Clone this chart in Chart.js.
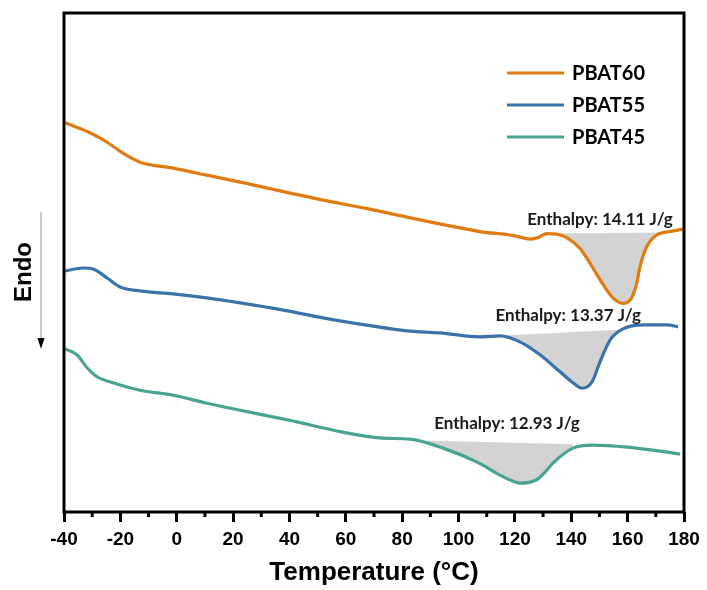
<!DOCTYPE html>
<html>
<head>
<meta charset="utf-8">
<script src="https://cdn.jsdelivr.net/npm/chart.js@4"></script>
<style>
  html, body { margin: 0; padding: 0; background: #fff; }
  #wrap { width: 707px; height: 590px; }
  canvas { display: block; }
</style>
</head>
<body>
<div id="wrap"><canvas id="dsc" width="707" height="590"></canvas></div>
<script>
// DSC heating curves (heat flow, arbitrary offset units) vs temperature
const seriesNames = ['PBAT60', 'PBAT55', 'PBAT45'];

const tempPBAT60 = [-39.6, -30.8, -24.7, -19.1, -13.0, -1.3, 10.7, 22.5, 51.9, 66.8, 81.7, 96.3, 107.6, 119.4, 125.4, 128.3, 131.3, 134.8, 138.4, 143.1, 146.7, 151.4, 155.0, 158.3, 161.5, 163.2, 164.4, 166.8, 170.3, 175.0, 179.8];
const heatPBAT60 = [78.0, 76.0, 74.1, 71.9, 70.1, 68.9, 67.5, 66.1, 62.5, 60.9, 59.1, 57.4, 56.2, 55.4, 54.7, 55.0, 55.8, 55.7, 55.0, 52.8, 49.8, 45.5, 42.8, 41.8, 43.0, 45.8, 49.2, 53.2, 55.5, 56.2, 56.7];

const tempPBAT55 = [-39.6, -33.3, -29.7, -24.7, -20.1, -13.0, -1.3, 10.7, 22.5, 37.4, 51.9, 66.8, 81.7, 93.4, 107.6, 114.7, 121.8, 128.9, 136.0, 140.6, 143.8, 147.4, 150.2, 153.8, 158.4, 165.5, 174.0, 177.9];
const heatPBAT55 = [48.3, 48.9, 48.7, 46.9, 45.1, 44.3, 43.7, 42.9, 41.9, 40.5, 38.9, 37.5, 36.3, 35.9, 35.1, 35.3, 34.1, 31.5, 28.1, 25.9, 24.8, 26.1, 30.1, 34.5, 36.7, 37.5, 37.5, 37.1];

const tempPBAT45 = [-39.6, -35.4, -31.8, -28.3, -22.6, -13.0, -1.3, 10.7, 22.5, 39.8, 59.0, 73.2, 82.8, 94.5, 106.6, 114.7, 118.3, 121.8, 124.7, 127.8, 130.7, 133.5, 140.6, 147.7, 159.8, 171.5, 178.6];
const heatPBAT45 = [32.7, 31.5, 28.9, 27.1, 25.9, 24.4, 23.4, 21.8, 20.4, 18.4, 16.0, 14.8, 14.6, 12.8, 10.0, 7.4, 6.4, 5.8, 5.9, 6.5, 8.0, 9.8, 12.8, 13.4, 13.0, 12.2, 11.6];

// integration baselines under the melting peaks (start / end)
const baseTempPBAT60 = [131.3, 172.0];
const baseHeatPBAT60 = [55.8, 56.0];
const baseTempPBAT55 = [114.7, 157.0];
const baseHeatPBAT55 = [35.3, 36.5];
const baseTempPBAT45 = [85.0, 140.6];
const baseHeatPBAT45 = [14.4, 13.6];

// melting enthalpies (J/g)
const enthalpies = [14.11, 13.37, 12.93];

const xTicks = [-40, -20, 0, 20, 40, 60, 80, 100, 120, 140, 160, 180];

const colors = ['#E07A12', '#3C72AA', '#4AA391'];
const peakFill = '#D3D3D3';
// anchor (temperature, heat flow) of each enthalpy caption
const labelAnchors = [[150.2, 57.5], [138.9, 38.3], [117.2, 16.6]];

const pts = (xs, ys) => xs.map((x, i) => ({ x, y: ys[i] }));

const curves = [
  pts(tempPBAT60, heatPBAT60),
  pts(tempPBAT55, heatPBAT55),
  pts(tempPBAT45, heatPBAT45)
];
const baselines = [
  pts(baseTempPBAT60, baseHeatPBAT60),
  pts(baseTempPBAT55, baseHeatPBAT55),
  pts(baseTempPBAT45, baseHeatPBAT45)
];

const datasets = [];
curves.forEach((d, i) => {
  datasets.push({
    label: seriesNames[i],
    data: d,
    borderColor: colors[i],
    borderWidth: 3.2,
    pointRadius: 0,
    cubicInterpolationMode: 'monotone',
    backgroundColor: peakFill,
    fill: { target: 3 + i, above: peakFill, below: peakFill },
    order: 1
  });
});
baselines.forEach((d) => {
  datasets.push({
    label: '',
    data: d,
    borderColor: 'rgba(0,0,0,0)',
    borderWidth: 0,
    pointRadius: 0,
    fill: false,
    order: 2
  });
});

const decorations = {
  id: 'decorations',
  afterDraw(chart) {
    const { ctx, chartArea: a, scales } = chart;
    const xs = scales.x, ys = scales.y;
    ctx.save();

    // frame
    ctx.strokeStyle = '#000';
    ctx.lineWidth = 3;
    ctx.strokeRect(a.left, a.top, a.right - a.left, a.bottom - a.top);

    // minor ticks
    ctx.lineWidth = 3;
    for (let v = -30; v < 180; v += 20) {
      const px = xs.getPixelForValue(v);
      ctx.beginPath();
      ctx.moveTo(px, a.bottom);
      ctx.lineTo(px, a.bottom + 5);
      ctx.stroke();
    }

    // enthalpy captions
    ctx.fillStyle = '#1a1a1a';
    ctx.font = 'bold 17px Lato';
    ctx.textAlign = 'center';
    ctx.textBaseline = 'alphabetic';
    enthalpies.forEach((h, i) => {
      const [t, q] = labelAnchors[i];
      ctx.fillText('Enthalpy: ' + h.toFixed(2) + ' J/g', xs.getPixelForValue(t), ys.getPixelForValue(q));
    });

    // legend
    ctx.font = 'bold 20px Lato';
    ctx.textAlign = 'left';
    ctx.textBaseline = 'middle';
    seriesNames.forEach((n, i) => {
      const y = 73 + i * 32;
      ctx.strokeStyle = colors[i];
      ctx.lineWidth = 3;
      ctx.beginPath();
      ctx.moveTo(507, y);
      ctx.lineTo(564, y);
      ctx.stroke();
      ctx.fillStyle = '#000';
      ctx.fillText(n, 572, y + 1);
    });

    // "Endo" direction label with arrow
    ctx.save();
    ctx.translate(24, 272);
    ctx.rotate(-Math.PI / 2);
    ctx.font = 'bold 24px "Liberation Sans"';
    ctx.textAlign = 'center';
    ctx.textBaseline = 'middle';
    ctx.fillStyle = '#000';
    ctx.fillText('Endo', 0, 0);
    ctx.restore();

    ctx.strokeStyle = '#AAAAAA';
    ctx.lineWidth = 1.2;
    ctx.beginPath();
    ctx.moveTo(41, 212);
    ctx.lineTo(41, 340);
    ctx.stroke();
    ctx.fillStyle = '#000';
    ctx.beginPath();
    ctx.moveTo(37.5, 338);
    ctx.lineTo(44.5, 338);
    ctx.lineTo(41, 349);
    ctx.closePath();
    ctx.fill();

    ctx.restore();
  }
};

new Chart(document.getElementById('dsc'), {
  type: 'line',
  data: { datasets },
  options: {
    responsive: false,
    animation: false,
    devicePixelRatio: 1,
    layout: { padding: { left: 64, top: 13, right: 23, bottom: 0 } },
    plugins: { legend: { display: false }, tooltip: { enabled: false } },
    scales: {
      x: {
        type: 'linear',
        min: -40,
        max: 180,
        afterBuildTicks(s) { s.ticks = xTicks.map(v => ({ value: v })); },
        afterFit(s) { s.height = 78; },
        border: { display: false },
        grid: { drawOnChartArea: false, drawTicks: true, tickLength: 10, tickWidth: 3, tickColor: '#000' },
        ticks: {
          color: '#000',
          padding: 6,
          maxRotation: 0,
          autoSkip: false,
          font: { family: 'Liberation Sans', weight: 'bold', size: 19 },
          callback: v => String(v)
        },
        title: {
          display: true,
          text: 'Temperature (°C)',
          color: '#000',
          font: { family: 'Liberation Sans', weight: 'bold', size: 26 },
          padding: { top: 6, bottom: 2 }
        }
      },
      y: { display: false, min: 0, max: 100 }
    }
  },
  plugins: [decorations]
});
</script>
</body>
</html>
